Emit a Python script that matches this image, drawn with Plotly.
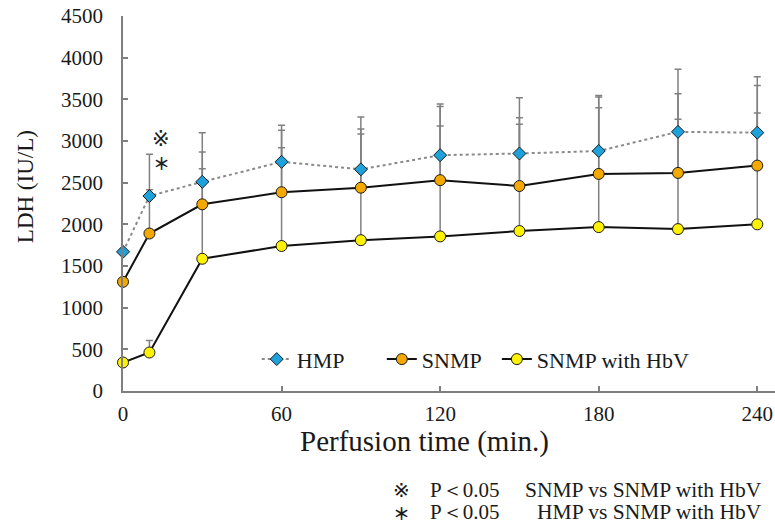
import plotly.graph_objects as go

# ---------------- data ----------------
time_min = [0, 10, 30, 60, 90, 120, 150, 180, 210, 240]

hmp = [1670, 2340, 2510, 2750, 2660, 2830, 2850, 2880, 3110, 3100]
hmp_sd = [0, 500, 590, 440, 628, 613, 670, 667, 750, 670]

snmp = [1310, 1890, 2240, 2385, 2440, 2530, 2460, 2605, 2617, 2705]
snmp_sd = [0, 525, 627, 745, 705, 885, 820, 922, 951, 960]

hbv = [342, 462, 1587, 1740, 1810, 1855, 1920, 1967, 1943, 2000]
hbv_sd = [0, 145, 1081, 1180, 1275, 1325, 1280, 1433, 1317, 1335]

y_ticks = [0, 500, 1000, 1500, 2000, 2500, 3000, 3500, 4000, 4500]
x_ticks = [0, 60, 120, 180, 240]

series_names = ["HMP", "SNMP", "SNMP with HbV"]
foot_symbols = ["※", "＊"]
foot_p = ["P＜0.05", "P＜0.05"]
foot_desc = ["SNMP vs SNMP with HbV", "HMP vs SNMP with HbV"]

# ---------------- layout helpers ----------------
W, H = 775, 525
L, R, T, B = 123.3, 0, 15.7, 134.3
PW = W - L - R
PH = H - T - B


def px2x(px):
    return (px - L) / PW


def py2y(py):
    return (H - B - py) / PH


FONT = "Liberation Serif, Times New Roman, serif"
CJK = "Noto Sans CJK JP"
SYM = "DejaVu Sans, Noto Sans CJK JP"
GRAY = "#7f7f7f"

fig = go.Figure()

# error bars first (below markers), upward only
for vals, sd in [(hbv, hbv_sd), (snmp, snmp_sd), (hmp, hmp_sd)]:
    fig.add_trace(go.Scatter(
        x=time_min, y=vals, mode="markers",
        marker=dict(size=1, color="rgba(0,0,0,0)"),
        error_y=dict(type="data", array=sd, arrayminus=[0] * len(sd),
                     symmetric=False, color="#808080", thickness=1.5, width=3.5),
        showlegend=False, hoverinfo="skip", cliponaxis=False,
    ))

fig.add_trace(go.Scatter(
    x=time_min, y=hmp, name=series_names[0], mode="lines+markers",
    line=dict(color="#8a8a8a", width=2, dash="dot"),
    marker=dict(symbol="diamond", size=10, color="#1ea2dc",
                line=dict(color="#1a1a1a", width=1)),
    cliponaxis=False, legend="legend",
))
fig.add_trace(go.Scatter(
    x=time_min, y=snmp, name=series_names[1], mode="lines+markers",
    line=dict(color="#111111", width=2),
    marker=dict(symbol="circle", size=11, color="#f4a900",
                line=dict(color="#1a1a1a", width=1)),
    cliponaxis=False, legend="legend2",
))
fig.add_trace(go.Scatter(
    x=time_min, y=hbv, name=series_names[2], mode="lines+markers",
    line=dict(color="#111111", width=2),
    marker=dict(symbol="circle", size=11, color="#fff200",
                line=dict(color="#1a1a1a", width=1)),
    cliponaxis=False, legend="legend3",
))

annotations = [
    # significance marks
    dict(x=14.5, y=3020, xref="x", yref="y", text=foot_symbols[0], showarrow=False,
         xanchor="center", yanchor="middle",
         font=dict(family=SYM, size=21, color="#222")),
    dict(x=14.5, y=2740, xref="x", yref="y", text=foot_symbols[1], showarrow=False,
         xanchor="center", yanchor="middle",
         font=dict(family=CJK, size=17, color="#222", weight="bold")),
    # axis titles
    dict(x=px2x(425), y=py2y(441), xref="paper", yref="paper",
         text="Perfusion time (min.)", showarrow=False,
         xanchor="center", yanchor="middle",
         font=dict(family=FONT, size=29, color="#1a1a1a")),
    dict(x=px2x(25.7), y=py2y(186.5), xref="paper", yref="paper",
         text="LDH (IU/L)", showarrow=False, textangle=-90,
         xanchor="center", yanchor="middle",
         font=dict(family=FONT, size=23, color="#1a1a1a")),
]

foot_y = [490, 512]
for i in range(2):
    annotations.append(dict(
        x=px2x(401.5), y=py2y(foot_y[i]), xref="paper", yref="paper",
        text=foot_symbols[i], showarrow=False,
        xanchor="center", yanchor="middle",
        font=dict(family=SYM if i == 0 else CJK, size=20 if i == 0 else 17,
                  color="#1a1a1a", weight="normal" if i == 0 else "bold")))
    annotations.append(dict(
        x=px2x(428), y=py2y(foot_y[i]), xref="paper", yref="paper",
        text=foot_p[i], showarrow=False, xanchor="left", yanchor="middle",
        font=dict(family=FONT, size=21, color="#1a1a1a")))
    annotations.append(dict(
        x=px2x(764), y=py2y(foot_y[i]), xref="paper", yref="paper",
        text=foot_desc[i], showarrow=False, xanchor="right", yanchor="middle",
        font=dict(family=FONT, size=21.5, color="#1a1a1a")))

legend_common = dict(orientation="h", y=py2y(359), xanchor="left", yanchor="middle",
                     font=dict(family=FONT, size=22, color="#1a1a1a"),
                     bgcolor="rgba(0,0,0,0)")

fig.update_layout(
    width=W, height=H,
    margin=dict(l=L, r=R, t=T, b=B, pad=0),
    paper_bgcolor="white", plot_bgcolor="white",
    font=dict(family=FONT, color="#1a1a1a"),
    showlegend=True,
    legend=dict(x=px2x(257), **legend_common),
    legend2=dict(x=px2x(382), **legend_common),
    legend3=dict(x=px2x(497), **legend_common),
    annotations=annotations,
    xaxis=dict(range=[0, 246.7], tickvals=x_ticks, ticks="inside", ticklen=5,
               tickcolor=GRAY, tickwidth=1.5, showline=True, linecolor=GRAY,
               linewidth=1.5, showgrid=False, zeroline=False,
               tickfont=dict(family=FONT, size=21, color="#1a1a1a"),
               ticklabelstandoff=3),
    yaxis=dict(range=[0, 4500], tickvals=y_ticks, ticks="inside", ticklen=5,
               tickcolor=GRAY, tickwidth=1.5, showline=True, linecolor=GRAY,
               linewidth=1.5, showgrid=False, zeroline=False,
               tickfont=dict(family=FONT, size=21, color="#1a1a1a"),
               ticklabelstandoff=14),
)

fig.write_html("out.html")
